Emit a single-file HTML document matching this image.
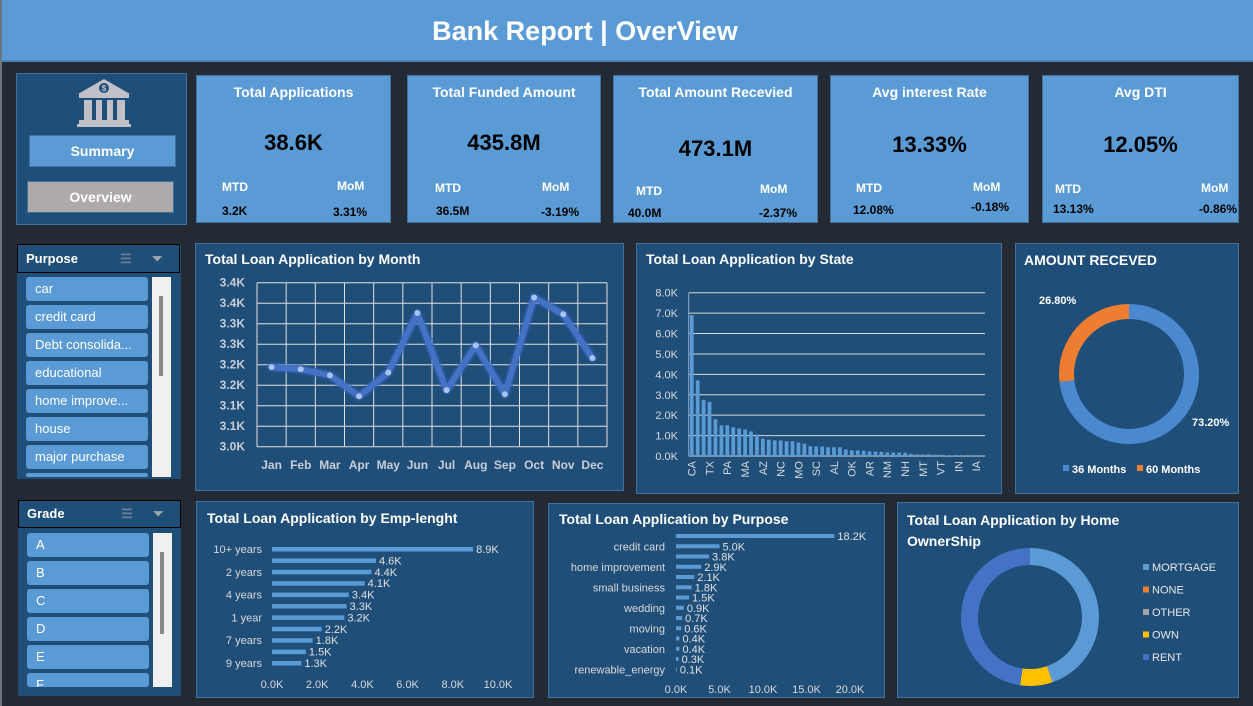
<!DOCTYPE html>
<html><head><meta charset="utf-8">
<style>
*{box-sizing:border-box;margin:0;padding:0}
body{width:1253px;height:706px;background:#242a34;position:relative;overflow:hidden;font-family:"Liberation Sans",Arial,sans-serif}
.abs{position:absolute}
.panel{position:absolute;background:#1f4e79;border:1px solid #41719c}
.card{position:absolute;background:#5b9bd5;border:1px solid #41719c;color:#000}
.card .t{position:absolute;left:0;right:0;top:8px;text-align:center;color:#fff;font-weight:bold;font-size:14px}
.card .v{position:absolute;left:0;right:0;top:54px;text-align:center;font-weight:bold;font-size:22px}
.card .l{position:absolute;color:#fff;font-weight:bold;font-size:12px}
.card .n{position:absolute;font-size:12px;font-weight:bold}
.title{position:absolute;color:#fff;font-weight:bold;font-size:14px}
.item{position:absolute;left:9px;width:122px;height:24px;background:#5b9bd5;border-radius:3px;color:#fff;font-size:13px;line-height:24px;padding-left:9px;white-space:nowrap;overflow:hidden}
svg text{font-family:"Liberation Sans",Arial,sans-serif}
</style></head><body>
<div class="abs" style="left:0;top:0;width:2px;height:706px;background:#6d7480"></div>
<div class="abs" style="left:2px;top:0;width:1251px;height:62px;background:#5b9bd5;border-bottom:2px solid #4a85bd">
<div style="position:absolute;left:383px;width:400px;text-align:center;color:#fff;font-weight:bold;font-size:27px;line-height:62px">Bank Report | OverView</div></div>

<div class="panel" style="left:16px;top:73px;width:171px;height:152px">
<svg class="abs" style="left:60px;top:4px" width="54" height="50" viewBox="0 0 54 50"><polygon points="27,1 1,16 53,16" fill="#c0c0c8"/><rect x="2" y="16" width="50" height="4" fill="#c0c0c8"/><circle cx="27" cy="10" r="5" fill="#1f4e79"/><text x="27" y="13" font-size="8" fill="#c0c0c8" text-anchor="middle" font-weight="bold">$</text><rect x="7" y="22" width="8" height="20" fill="#c0c0c8"/><rect x="19" y="22" width="6" height="20" fill="#c0c0c8"/><rect x="30" y="22" width="6" height="20" fill="#c0c0c8"/><rect x="40" y="22" width="8" height="20" fill="#c0c0c8"/><rect x="2" y="42" width="50" height="4" fill="#c0c0c8"/><rect x="0" y="46" width="54" height="3" fill="#c0c0c8"/></svg>
<div class="abs" style="left:12px;top:61px;width:147px;height:32px;background:#5b9bd5;border:1px solid #41719c;color:#fff;font-weight:bold;font-size:14px;text-align:center;line-height:30px">Summary</div>
<div class="abs" style="left:10px;top:107px;width:147px;height:32px;background:#aeaaaa;border:1px solid #41719c;color:#fff;font-weight:bold;font-size:14px;text-align:center;line-height:30px">Overview</div>
</div>

<div class="card" style="left:196px;top:75px;width:195px;height:148px"><div class="t">Total Applications</div><div class="v">38.6K</div><div class="l" style="left:25px;top:104px">MTD</div><div class="l" style="left:140px;top:103px">MoM</div><div class="n" style="left:25px;top:128px">3.2K</div><div class="n" style="left:136px;top:129px">3.31%</div></div>
<div class="card" style="left:407px;top:75px;width:194px;height:148px"><div class="t">Total Funded Amount</div><div class="v">435.8M</div><div class="l" style="left:27px;top:105px">MTD</div><div class="l" style="left:134px;top:104px">MoM</div><div class="n" style="left:28px;top:128px">36.5M</div><div class="n" style="left:133px;top:129px">-3.19%</div></div>
<div class="card" style="left:613px;top:75px;width:205px;height:148px"><div class="t">Total Amount Recevied</div><div class="v" style="top:60px">473.1M</div><div class="l" style="left:22px;top:108px">MTD</div><div class="l" style="left:146px;top:106px">MoM</div><div class="n" style="left:14px;top:130px">40.0M</div><div class="n" style="left:145px;top:130px">-2.37%</div></div>
<div class="card" style="left:830px;top:75px;width:199px;height:148px"><div class="t">Avg interest Rate</div><div class="v" style="top:56px">13.33%</div><div class="l" style="left:25px;top:105px">MTD</div><div class="l" style="left:142px;top:104px">MoM</div><div class="n" style="left:22px;top:127px">12.08%</div><div class="n" style="left:140px;top:124px">-0.18%</div></div>
<div class="card" style="left:1042px;top:75px;width:197px;height:148px"><div class="t">Avg DTI</div><div class="v" style="top:56px">12.05%</div><div class="l" style="left:12px;top:106px">MTD</div><div class="l" style="left:158px;top:105px">MoM</div><div class="n" style="left:10px;top:126px">13.13%</div><div class="n" style="left:156px;top:126px">-0.86%</div></div>

<div class="panel" style="left:17px;top:244px;width:164px;height:235px;border:none">
<div class="abs" style="left:0;top:0;width:163px;height:29px;border:1px solid #000;color:#fff;font-weight:bold;font-size:13px;line-height:27px;padding-left:8px">Purpose<span style="position:absolute;left:102px;color:#6d7f95">☰</span><span style="position:absolute;left:134px;color:#a0a8b0">⏷</span></div>
<div class="item" style="top:33px">car</div>
<div class="item" style="top:61px">credit card</div>
<div class="item" style="top:89px">Debt consolida...</div>
<div class="item" style="top:117px">educational</div>
<div class="item" style="top:145px">home improve...</div>
<div class="item" style="top:173px">house</div>
<div class="item" style="top:201px">major purchase</div>
<div class="item" style="top:229px;height:4px"></div>
<div class="abs" style="left:135px;top:33px;width:19px;height:200px;background:#f0f0f0"><div style="position:absolute;left:7px;top:19px;width:4px;height:80px;background:#888"></div></div>
</div>
<div class="panel" style="left:18px;top:500px;width:163px;height:196px;border:none">
<div class="abs" style="left:0;top:0;width:163px;height:28px;border:1px solid #000;color:#fff;font-weight:bold;font-size:13px;line-height:26px;padding-left:8px">Grade<span style="position:absolute;left:102px;color:#6d7f95">☰</span><span style="position:absolute;left:134px;color:#a0a8b0">⏷</span></div>
<div class="item" style="top:33px">A</div>
<div class="item" style="top:61px">B</div>
<div class="item" style="top:89px">C</div>
<div class="item" style="top:117px">D</div>
<div class="item" style="top:145px">E</div>
<div class="item" style="top:173px;height:14px">F</div>
<div class="abs" style="left:135px;top:33px;width:19px;height:154px;background:#f0f0f0"><div style="position:absolute;left:7px;top:19px;width:4px;height:82px;background:#888"></div></div>
</div>

<div class="panel" style="left:195px;top:243px;width:429px;height:248px"><div class="title" style="left:9px;top:7px">Total Loan Application by Month</div></div>
<div class="panel" style="left:636px;top:243px;width:366px;height:251px"><div class="title" style="left:9px;top:7px">Total Loan Application by State</div></div>
<div class="panel" style="left:1015px;top:243px;width:224px;height:251px"><div class="title" style="left:8px;top:8px">AMOUNT RECEVED</div></div>
<div class="panel" style="left:196px;top:501px;width:338px;height:197px"><div class="title" style="left:10px;top:8px">Total Loan Application by Emp-lenght</div></div>
<div class="panel" style="left:548px;top:503px;width:337px;height:195px"><div class="title" style="left:10px;top:7px">Total Loan Application by Purpose</div></div>
<div class="panel" style="left:897px;top:502px;width:342px;height:196px"><div class="title" style="left:9px;top:7px;line-height:21px">Total Loan Application by Home<br>OwnerShip</div></div>

<svg id="charts" class="abs" style="left:0;top:0" width="1253" height="706"></svg>

<script>
const months=["Jan","Feb","Mar","Apr","May","Jun","Jul","Aug","Sep","Oct","Nov","Dec"];
const monthVals=[3.194,3.189,3.174,3.123,3.181,3.326,3.138,3.247,3.128,3.364,3.323,3.216];
const monthTicks=["3.0K","3.1K","3.1K","3.2K","3.2K","3.3K","3.3K","3.4K","3.4K"];
const states=["CA","NY","FL","TX","NJ","IL","PA","VA","GA","MA","OH","MD","AZ","WA","CO","NC","CT","MI","MO","MN","NV","SC","WI","OR","AL","LA","KY","OK","KS","UT","AR","DC","RI","NM","HI","WV","NH","DE","WY","MT","AK","SD","VT","MS","TN","IN","ID","NE","IA","ME"];
const stateVals=[6.9,3.7,2.75,2.65,1.8,1.5,1.5,1.4,1.35,1.3,1.2,1.05,0.85,0.8,0.77,0.76,0.72,0.72,0.66,0.6,0.48,0.47,0.46,0.43,0.43,0.43,0.32,0.28,0.27,0.26,0.23,0.22,0.21,0.18,0.17,0.17,0.16,0.11,0.08,0.08,0.08,0.06,0.06,0.02,0.02,0.01,0.01,0.01,0.005,0.003];
const stateTicks=["0.0K","1.0K","2.0K","3.0K","4.0K","5.0K","6.0K","7.0K","8.0K"];
const termLabels=["36 Months","60 Months"];
const termVals=[73.2,26.8];
const empCats=["10+ years","< 1 year","2 years","3 years","4 years","5 years","1 year","6 years","7 years","8 years","9 years"];
const empVals=[8.9,4.6,4.4,4.1,3.4,3.3,3.2,2.2,1.8,1.5,1.3];
const empTicks=["0.0K","2.0K","4.0K","6.0K","8.0K","10.0K"];
const purCats=["debt consolidation","credit card","other","home improvement","major purchase","small business","car","wedding","medical","moving","house","vacation","educational","renewable_energy"];
const purVals=[18.2,5.0,3.8,2.9,2.1,1.8,1.5,0.9,0.7,0.6,0.4,0.4,0.3,0.1];
const purTicks=["0.0K","5.0K","10.0K","15.0K","20.0K"];
const homeLabels=["MORTGAGE","NONE","OTHER","OWN","RENT"];
const homeVals=[44.5,0.01,0.3,7.5,47.7];

const S=document.getElementById('charts');const NS="http://www.w3.org/2000/svg";
function mk(t,a,p){const e=document.createElementNS(NS,t);for(const k in a)e.setAttribute(k,a[k]);(p||S).appendChild(e);return e;}
function tx(x,y,s,o){const e=mk('text',Object.assign({x:x,y:y,fill:'#d9d9d9','font-size':11},o||{}));e.textContent=s;return e;}

const mx0=257,mx1=607,my0=446.7,my1=282.7;
const mY=v=>my0-(v-3.0)/0.4*(my0-my1);
const cw=(mx1-mx0)/months.length;
const mX=i=>mx0+cw*(i+0.5);
monthTicks.forEach((t,i)=>{const v=3.0+i*0.05;const y=mY(v);
 const g=mk('line',{x1:mx0,x2:mx1,y1:y,y2:y,stroke:'#e0e0e0','stroke-width':1});
 
 const l=tx(245,y+4,t,{'text-anchor':'end','font-size':12,'font-weight':'bold',fill:'#c8cdd6'});
 });
for(let i=0;i<=months.length;i++){const x=mx0+cw*i;mk('line',{x1:x,x2:x,y1:my1,y2:my0,stroke:'#e0e0e0','stroke-width':1});}
months.forEach((m,i)=>{const l=tx(mX(i),469,m,{'text-anchor':'middle','font-size':12,'font-weight':'bold',fill:'#c8cdd6'});
 });
const pts=monthVals.map((v,i)=>mX(i)+','+mY(v)).join(' ');
mk('polyline',{points:pts,fill:'none',stroke:'#2f5fb8','stroke-opacity':0.5,'stroke-width':10,'stroke-linejoin':'round','stroke-linecap':'round'});
const ln=mk('polyline',{points:pts,fill:'none',stroke:'#4472c4','stroke-width':6,'stroke-linejoin':'round','stroke-linecap':'round'});

monthVals.forEach((v,i)=>{const c=mk('circle',{cx:mX(i),cy:mY(v),r:3,fill:'#a9c4ec'});
 });

const sx0=688.7,sx1=985,sy0=456,sy1=292.7;
const sY=v=>sy0-v/8*(sy0-sy1);const sw=(sx1-sx0)/states.length;
stateTicks.forEach((t,i)=>{const y=sY(i);
 mk('line',{x1:sx0,x2:sx1,y1:y,y2:y,stroke:'#d9d9d9','stroke-width':1});
 const l=tx(678,y+4,t,{'text-anchor':'end','font-size':11});
 });
mk('line',{x1:sx0,x2:sx0,y1:sy1,y2:sy0,stroke:'#8ea9c8','stroke-width':1});
stateVals.forEach((v,i)=>{const b=mk('rect',{x:sx0+sw*i+1.2,y:sY(v),width:sw-2.2,height:sy0-sY(v),fill:'#5b9bd5'});
 });
states.forEach((s,i)=>{if(i%3)return;const x=sx0+sw*(i+0.5)+4;
 const l=tx(x,461,s,{'text-anchor':'end','font-size':11,transform:`rotate(-90 ${x} 461)`});
 });

function donut(cx,cy,R,r,vals,cols,start,dir,name){const tot=vals.reduce((a,b)=>a+b,0);let a=start;
 vals.forEach((v,i)=>{const da=v/tot*2*Math.PI*dir;const a2=a+da;
  const P=(rr,ang)=>[cx+rr*Math.sin(ang),cy-rr*Math.cos(ang)];
  const large=Math.abs(da)>Math.PI?1:0;const sw1=dir>0?1:0;const sw2=dir>0?0:1;
  const [x1,y1]=P(R,a),[x2,y2]=P(R,a2),[x3,y3]=P(r,a2),[x4,y4]=P(r,a);
  const p=mk('path',{d:`M${x1},${y1}A${R},${R} 0 ${large} ${sw1} ${x2},${y2}L${x3},${y3}A${r},${r} 0 ${large} ${sw2} ${x4},${y4}Z`,fill:cols[i]});
  a=a2;});}
donut(1129,374,70,55,termVals,['#4a89cf','#ed7d31'],0,1,'term-slice');
let l1=tx(1039,304,termVals[1].toFixed(2)+'%',{'font-size':11,'font-weight':'bold',fill:'#fff'});

let l2=tx(1192,426,termVals[0].toFixed(2)+'%',{'font-size':11,'font-weight':'bold',fill:'#fff'});

[['#4a89cf',1063],['#ed7d31',1137]].forEach((c,i)=>{mk('rect',{x:c[1],y:465,width:6,height:6,fill:c[0]});
 const l=tx(c[1]+9,473,termLabels[i],{'font-size':11,'font-weight':'bold',fill:'#fff'});
 });

const ex0=272,eK=22.6,ey0=549,eSp=11.4;
empVals.forEach((v,i)=>{const y=ey0+eSp*i;
 const b=mk('rect',{x:ex0,y:y-2,width:v*eK,height:4.5,fill:'#5b9bd5'});
 
 const l=tx(ex0+v*eK+3,y+4,v.toFixed(1)+'K',{'font-size':11,fill:'#e0e0e0'});
 
 if(i%2===0){const c=tx(262,y+4,empCats[i],{'text-anchor':'end','font-size':11});
  }});
empTicks.forEach((t,i)=>{const l=tx(ex0+i*2*eK,688,t,{'text-anchor':'middle','font-size':11});
 });

const px0=676,pK=8.7,py0=536,pSp=10.25;
purVals.forEach((v,i)=>{const y=py0+pSp*i;
 const b=mk('rect',{x:px0,y:y-2,width:v*pK,height:4,fill:'#5b9bd5'});
 
 const l=tx(px0+v*pK+3,y+4,v.toFixed(1)+'K',{'font-size':11,fill:'#e0e0e0'});
 
 if(i%2===1){const c=tx(665,y+4,purCats[i],{'text-anchor':'end','font-size':11});
  }});
purTicks.forEach((t,i)=>{const l=tx(px0+i*5*pK,693,t,{'text-anchor':'middle','font-size':11});
 });

const hCols=['#5b9bd5','#ed7d31','#a5a5a5','#ffc000','#4472c4'];
donut(1030,617,69,52,homeVals,hCols,0,1,'home-slice');
homeLabels.forEach((h,i)=>{const y=570+i*22.5;mk('rect',{x:1143,y:y-6,width:6,height:6,fill:hCols[i]});
 const l=tx(1152,y+1,h,{'font-size':11,fill:'#e8e8e8'});
 });
</script>
</body></html>
